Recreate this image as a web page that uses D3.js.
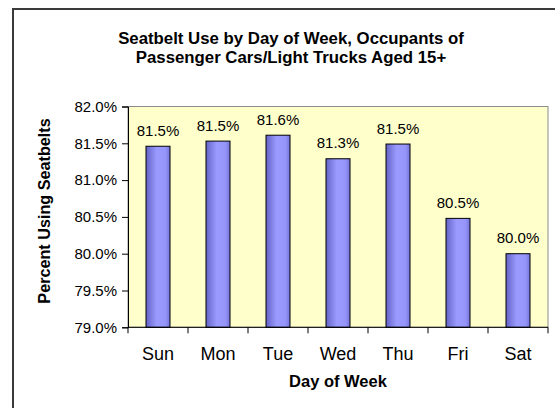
<!DOCTYPE html>
<html>
<head>
<meta charset="utf-8">
<script src="https://cdn.jsdelivr.net/npm/d3@7"></script>
<style>
  body { margin: 0; background: #fff; }
  text { font-family: Arial, "Liberation Sans", sans-serif; fill: #000; }
</style>
</head>
<body>
<div id="chart"></div>
<script>
const days = ["Sun", "Mon", "Tue", "Wed", "Thu", "Fri", "Sat"]
const beltUse = [81.46, 81.53, 81.61, 81.29, 81.49, 80.48, 80.00]
const yTicks = [79.0, 79.5, 80.0, 80.5, 81.0, 81.5, 82.0]
const titleLines = ["Seatbelt Use by Day of Week, Occupants of", "Passenger Cars/Light Trucks Aged 15+"]

let width = 555, height = 408
let plot = {left: 128, right: 548, top: 106.5, bottom: 327.3}

let svg = d3.select("#chart").append("svg")
    .attr("width", width)
    .attr("height", height)

// bar gradient, darker at the edges
let grad = svg.append("defs").append("linearGradient")
    .attr("id", "barFill")
    .attr("x1", "0%").attr("x2", "100%")
    .attr("y1", "0%").attr("y2", "0%")
grad.append("stop").attr("offset", "0%").attr("stop-color", "#6464c8")
grad.append("stop").attr("offset", "45%").attr("stop-color", "#9a9aff")
grad.append("stop").attr("offset", "80%").attr("stop-color", "#9696fa")
grad.append("stop").attr("offset", "100%").attr("stop-color", "#7474dc")

// outer frame
svg.append("rect")
    .attr("x", 13).attr("y", 9)
    .attr("width", 560).attr("height", 420)
    .attr("fill", "#fff")
    .attr("stroke", "#3a3a3a")
    .attr("stroke-width", 2)

svg.append("g").selectAll("text")
    .data(titleLines)
    .enter().append("text")
    .attr("x", 291)
    .attr("y", (d, i) => 44 + i * 19)
    .attr("text-anchor", "middle")
    .style("font-size", "16.8px")
    .style("font-weight", "bold")
    .text(d => d)

let x = d3.scaleBand()
    .domain(days)
    .range([plot.left, plot.right])
    .paddingInner(0.6)
    .paddingOuter(0.3)

let y = d3.scaleLinear()
    .domain([79, 82])
    .range([plot.bottom, plot.top])

// plot area
svg.append("rect")
    .attr("x", plot.left).attr("y", plot.top)
    .attr("width", plot.right - plot.left)
    .attr("height", plot.bottom - plot.top)
    .attr("fill", "#ffffcc")
    .attr("stroke", "#8c8c8c")
    .attr("stroke-width", 1)

svg.selectAll(".bar")
    .data(days)
    .enter().append("rect")
    .attr("class", "bar")
    .attr("x", d => x(d))
    .attr("y", (d, i) => y(beltUse[i]))
    .attr("width", x.bandwidth())
    .attr("height", (d, i) => y(79) - y(beltUse[i]))
    .attr("fill", "url(#barFill)")
    .attr("stroke", "#000")
    .attr("stroke-width", 1)

svg.selectAll(".barLabel")
    .data(days)
    .enter().append("text")
    .attr("class", "barLabel")
    .attr("x", d => x(d) + x.bandwidth() / 2)
    .attr("y", (d, i) => y(beltUse[i]) - 10.5)
    .attr("text-anchor", "middle")
    .style("font-size", "15px")
    .text((d, i) => beltUse[i].toFixed(1) + "%")

// y axis
let yAxis = d3.axisLeft(y)
    .tickValues(yTicks)
    .tickSize(6)
    .tickPadding(5)
    .tickFormat(d => d.toFixed(1) + "%")
let yg = svg.append("g")
    .attr("transform", "translate(" + plot.left + ",0)")
    .call(yAxis)
yg.select(".domain").attr("stroke", "#000")
yg.selectAll("text")
    .style("font-size", "15px")
    .style("font-family", "Arial, 'Liberation Sans', sans-serif")
    .attr("fill", "#000")

// x axis with ticks between categories
let step = x.step()
let xTicks = days.map(d => x(d) - (step - x.bandwidth()) / 2)
xTicks.push(plot.right)
let xg = svg.append("g")
xg.append("line")
    .attr("x1", plot.left).attr("x2", plot.right)
    .attr("y1", plot.bottom).attr("y2", plot.bottom)
    .attr("stroke", "#000")
xg.selectAll(".xtick")
    .data(xTicks)
    .enter().append("line")
    .attr("class", "xtick")
    .attr("x1", d => d).attr("x2", d => d)
    .attr("y1", plot.bottom).attr("y2", plot.bottom + 6)
    .attr("stroke", "#000")
xg.selectAll(".xlabel")
    .data(days)
    .enter().append("text")
    .attr("class", "xlabel")
    .attr("x", d => x(d) + x.bandwidth() / 2)
    .attr("y", 360)
    .attr("text-anchor", "middle")
    .style("font-size", "18px")
    .text(d => d)

svg.append("text")
    .attr("x", (plot.left + plot.right) / 2)
    .attr("y", 387)
    .attr("text-anchor", "middle")
    .style("font-size", "16.5px")
    .style("font-weight", "bold")
    .text("Day of Week")

svg.append("text")
    .attr("transform", "translate(50,211) rotate(-90)")
    .attr("text-anchor", "middle")
    .style("font-size", "16.2px")
    .style("font-weight", "bold")
    .text("Percent Using Seatbelts")
</script>
</body>
</html>
